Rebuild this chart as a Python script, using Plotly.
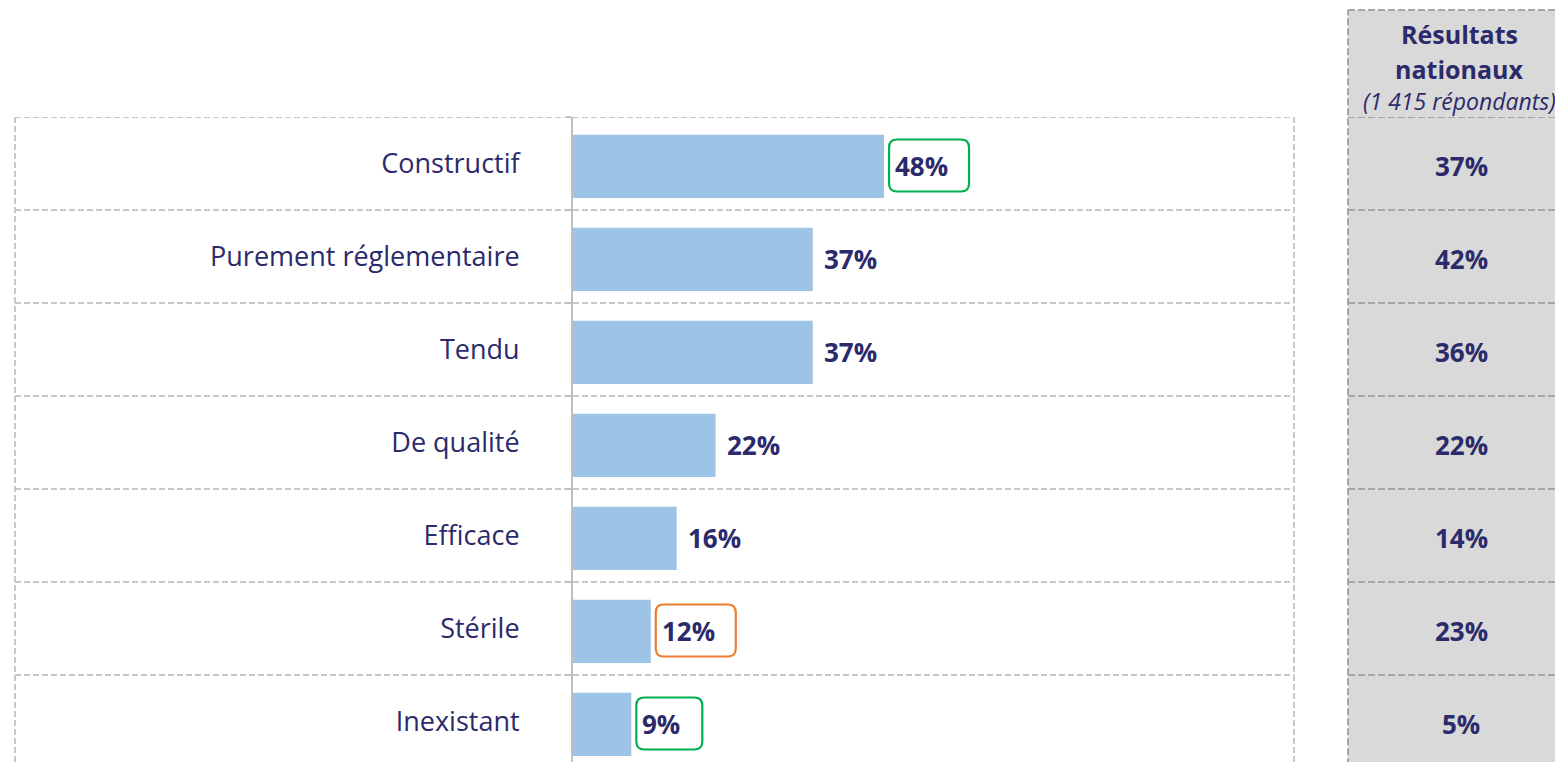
import plotly.graph_objects as go

# ---- data ----
categories = ["Constructif", "Purement réglementaire", "Tendu", "De qualité",
              "Efficace", "Stérile", "Inexistant"]
values = [48, 37, 37, 22, 16, 12, 9]
national = [37, 42, 36, 22, 14, 23, 5]
header_lines = ["Résultats", "nationaux", "(1 415 répondants)"]
highlight = {"Constructif": "#00B050", "Stérile": "#ED7D31", "Inexistant": "#00B050"}

# ---- style / layout constants ----
W, H = 1563, 762
OFF = 8  # page body margin
NAVY = "#2B2A6A"
FONT = "Open Sans"
FS = 26
BAR = "#9DC3E6"
GRID = "#C8C8C8"
GRID2 = "#A6A6A6"
PANEL = "#D9D9D9"
DASH1 = "6px,3px"
DASH2 = "7px,3px"

TABLE_L, TABLE_R = 15 - OFF, 1294 - OFF
AXIS_X = 573 - OFF
TOP = 117 - OFF
ROW_H = 93
PX_PER_UNIT = 6.48
PANEL_L, PANEL_TOP = 1348 - OFF, 10 - OFF
PANEL_CX = 1461 - OFF


def px(x):
    return x / W


def py(y):
    return 1 - y / H


n = len(categories)
y_bottom = -0.5 + (H - TOP) / ROW_H

fig = go.Figure()
fig.add_trace(go.Bar(
    x=values, y=categories, orientation="h",
    marker=dict(color=BAR, line=dict(width=0)),
    width=0.68, offset=-0.31, hoverinfo="skip",
))

shapes = []
annotations = []

# main table dashed grid
for k in range(n + 1):
    shapes.append(dict(type="line", xref="paper", yref="y",
                       x0=px(TABLE_L), x1=px(TABLE_R), y0=k - 0.5, y1=k - 0.5,
                       line=dict(color=GRID, width=2, dash=DASH1), layer="below"))
for xv in (TABLE_L, TABLE_R):
    shapes.append(dict(type="line", xref="paper", yref="y",
                       x0=px(xv), x1=px(xv), y0=-0.5, y1=n - 0.5,
                       line=dict(color=GRID, width=2, dash=DASH1), layer="below"))

# national panel
shapes.append(dict(type="rect", xref="paper", yref="paper",
                   x0=px(PANEL_L), x1=1.02, y0=-0.02, y1=py(PANEL_TOP),
                   fillcolor=PANEL, line=dict(width=0), layer="below"))
shapes.append(dict(type="line", xref="paper", yref="paper",
                   x0=px(PANEL_L), x1=px(PANEL_L), y0=-0.02, y1=py(PANEL_TOP),
                   line=dict(color=GRID2, width=2, dash=DASH2)))
shapes.append(dict(type="line", xref="paper", yref="paper",
                   x0=px(PANEL_L), x1=1.02, y0=py(PANEL_TOP), y1=py(PANEL_TOP),
                   line=dict(color=GRID2, width=2, dash=DASH2)))
for k in range(n + 1):
    shapes.append(dict(type="line", xref="paper", yref="y",
                       x0=px(PANEL_L), x1=1.02, y0=k - 0.5, y1=k - 0.5,
                       line=dict(color=GRID2, width=2, dash=DASH2)))

# header
header_y = [34 - OFF, 69 - OFF, 101 - OFF]
header_fs = [FS - 1, FS - 1, FS - 3]
for i, (txt, yy) in enumerate(zip(header_lines, header_y)):
    t = f"<b>{txt}</b>" if i < 2 else f"<i>{txt}</i>"
    annotations.append(dict(xref="paper", yref="paper", x=px(PANEL_CX - 2), y=py(yy),
                            text=t, showarrow=False, xanchor="center", yanchor="middle",
                            borderpad=0,
                            font=dict(family=FONT, size=header_fs[i], color=NAVY)))

# national values
for c, v in zip(categories, national):
    annotations.append(dict(xref="paper", yref="y", x=px(PANEL_CX), y=c,
                            text=f"<b>{v}%</b>", showarrow=False,
                            xanchor="center", yanchor="middle", yshift=-2,
                            font=dict(family=FONT, size=FS, color=NAVY)))

# bar value labels + highlight boxes
for i, (c, v) in enumerate(zip(categories, values)):
    label = f"{v}%"
    annotations.append(dict(xref="x", yref="y", x=v, y=c, xanchor="left",
                            yanchor="middle", xshift=9, yshift=-2,
                            text=f"<b>{label}</b>", showarrow=False,
                            font=dict(family=FONT, size=FS, color=NAVY)))
    if c in highlight:
        bw = 80 if len(label) == 3 else 66
        x0, x1 = 5, 5 + bw
        h2, r = 26, 8
        yc = -2
        path = (f"M {x0+r},{yc-h2} L {x1-r},{yc-h2} Q {x1},{yc-h2} {x1},{yc-h2+r} "
                f"L {x1},{yc+h2-r} Q {x1},{yc+h2} {x1-r},{yc+h2} L {x0+r},{yc+h2} "
                f"Q {x0},{yc+h2} {x0},{yc+h2-r} L {x0},{yc-h2+r} Q {x0},{yc-h2} {x0+r},{yc-h2} Z")
        shapes.append(dict(type="path", xref="x", yref="y",
                           xsizemode="pixel", ysizemode="pixel",
                           xanchor=v, yanchor=i, path=path,
                           line=dict(color=highlight[c], width=2.2)))

x_max = (TABLE_R - AXIS_X) / PX_PER_UNIT

fig.update_layout(
    width=W, height=H,
    margin=dict(l=0, r=0, t=0, b=0),
    paper_bgcolor="white", plot_bgcolor="rgba(0,0,0,0)",
    showlegend=False,
    xaxis=dict(domain=[px(AXIS_X), px(TABLE_R)], range=[0, x_max],
               visible=False, fixedrange=True),
    yaxis=dict(domain=[0, py(TOP)], range=[y_bottom, -0.5],
               type="category", categoryorder="array", categoryarray=categories,
               showline=True, linecolor="#BFBFBF", linewidth=2,
               ticks="outside", ticklen=5, tickcolor="#BFBFBF", tickwidth=1.5,
               tickson="boundaries", showgrid=False, zeroline=False,
               ticklabelstandoff=46,
               tickfont=dict(family=FONT, size=27, color=NAVY), fixedrange=True),
    shapes=shapes,
    annotations=annotations,
)

fig.write_html("out.html")
